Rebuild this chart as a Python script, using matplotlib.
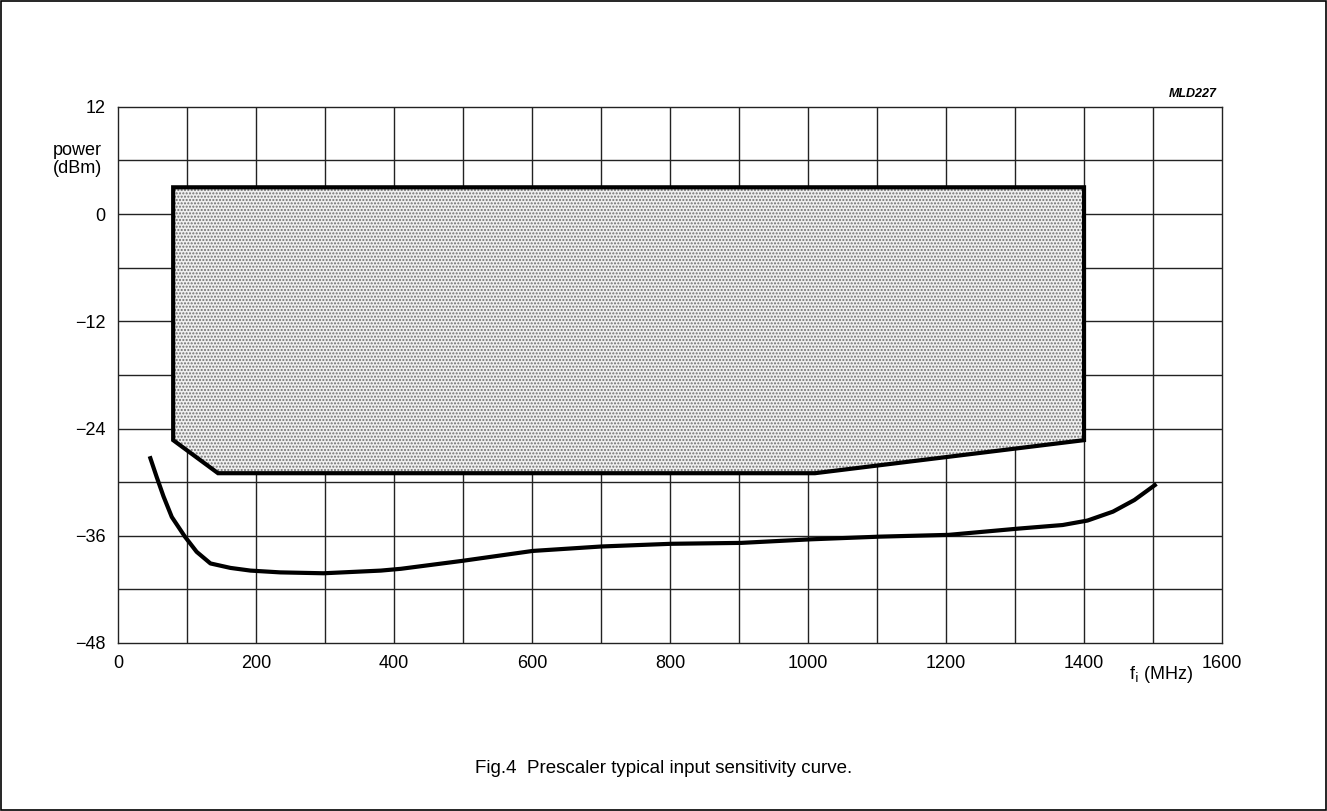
# Prescaler typical input sensitivity curve (Fig.4, MLD227)
import matplotlib
matplotlib.use("Agg")
from matplotlib import pyplot as plt
from matplotlib.patches import Polygon, Rectangle

plt.rcParams['font.family'] = ['Liberation Sans', 'DejaVu Sans']
plt.rcParams['hatch.linewidth'] = 1.0

# Operating area (shaded), corners in MHz / dBm
area_f = [80, 1400, 1400, 1010, 145, 80]
area_p = [3, 3, -25.3, -29, -29, -25.3]

# Typical sensitivity curve
curve_f = [46, 56, 66, 78, 97, 114, 134, 163, 192, 235, 298, 381, 410, 500,
           601, 701, 802, 903, 1004, 1104, 1204, 1305, 1369, 1405, 1442,
           1473, 1505]
curve_p = [-27.1, -29.4, -31.6, -33.9, -36.1, -37.8, -39.1, -39.6, -39.9,
           -40.1, -40.2, -39.9, -39.7, -38.8, -37.7, -37.2, -36.9, -36.8,
           -36.4, -36.1, -35.9, -35.2, -34.8, -34.3, -33.3, -32.0, -30.2]

xticks = list(range(0, 1700, 200))
yticks = [12, 0, -12, -24, -36, -48]
yticklabels = ['12', '0', '\u221212', '\u221224', '\u221236', '\u221248']

fig = plt.figure(figsize=(13.27, 8.11), dpi=100)
ax = fig.add_axes([0.0889, 0.2072, 0.832, 0.661])

ax.set_xlim(0, 1600)
ax.set_ylim(-48, 12)

# grid every 100 MHz and 6 dBm
for f in range(100, 1600, 100):
    ax.axvline(f, color='#222222', lw=1.0, zorder=1)
for p in range(-42, 12, 6):
    ax.axhline(p, color='#222222', lw=1.0, zorder=1)

pts = list(zip(area_f, area_p))
ax.add_patch(Polygon(pts, closed=True, facecolor='#f0f0f0',
                     edgecolor='#707070', lw=0, hatch='.....', zorder=2))
ax.add_patch(Polygon(pts, closed=True, fill=False,
                     edgecolor='black', lw=3, zorder=3))

ax.plot(curve_f, curve_p, color='black', lw=3, zorder=4,
        solid_capstyle='butt', solid_joinstyle='round')

ax.set_xticks(xticks)
ax.set_xticklabels([str(t) for t in xticks], fontsize=13)
ax.set_yticks(yticks)
ax.set_yticklabels(yticklabels, fontsize=13)
ax.tick_params(length=0, pad=9)
for s in ax.spines.values():
    s.set_color('#222222')
    s.set_linewidth(1.0)

ax.text(1512, -50.4, r'f$_{\rm i}$ (MHz)', fontsize=13, ha='center', va='top',
        clip_on=False)
ax.text(-23, 6.1, 'power\n(dBm)', fontsize=13, ha='right', va='center',
        linespacing=1.05, clip_on=False)
ax.text(1592, 12.8, 'MLD227', fontsize=9, style='italic', weight='bold',
        ha='right', va='bottom', clip_on=False)

fig.text(0.5, 0.053, 'Fig.4  Prescaler typical input sensitivity curve.',
         fontsize=13.5, ha='center', va='center')

fig.patches.append(Rectangle((0.001, 0.001), 0.998, 0.998, transform=fig.transFigure,
                             fill=False, edgecolor='black', lw=1.2))

fig.savefig('out.png', dpi=100)
